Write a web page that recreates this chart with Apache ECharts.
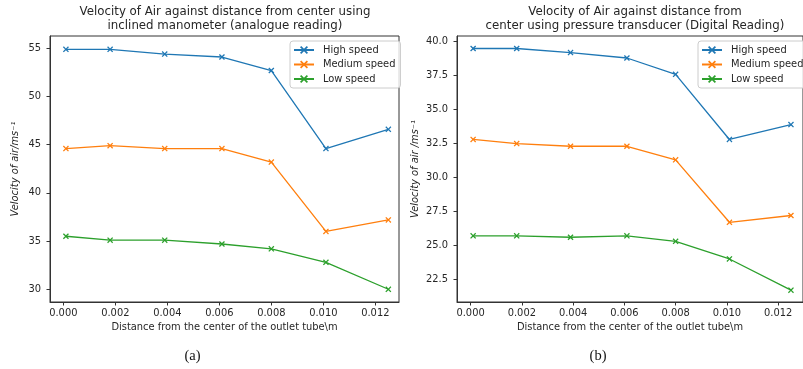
<!DOCTYPE html>
<html><head><meta charset="utf-8">
<script src="https://cdn.jsdelivr.net/npm/echarts@6/dist/echarts.min.js"></script>
<style>html,body{margin:0;padding:0;background:#fff}#c{width:803px;height:369px}</style>
</head><body><div id="c"></div>
<script>
// ---- data ----
const xDist = [0.0001, 0.0018, 0.0039, 0.0061, 0.0080, 0.0101, 0.0125];
const seriesNames = ['High speed', 'Medium speed', 'Low speed'];
const manoHigh = [54.9, 54.9, 54.4, 54.1, 52.7, 44.6, 46.6];
const manoMedium = [44.6, 44.9, 44.6, 44.6, 43.2, 36.0, 37.2];
const manoLow = [35.5, 35.1, 35.1, 34.7, 34.2, 32.8, 30.0];
const digHigh = [39.5, 39.5, 39.2, 38.8, 37.6, 32.8, 33.9];
const digMedium = [32.8, 32.5, 32.3, 32.3, 31.3, 26.7, 27.2];
const digLow = [25.7, 25.7, 25.6, 25.7, 25.3, 24.0, 21.7];
const xTicks = [0, 0.002, 0.004, 0.006, 0.008, 0.010, 0.012];
const yTicksA = [30, 35, 40, 45, 50, 55];
const yTicksB = [22.5, 25, 27.5, 30, 32.5, 35, 37.5, 40];
const titleA = 'Velocity of Air against distance from center using\ninclined manometer (analogue reading)';
const titleB = 'Velocity of Air against distance from\ncenter using pressure transducer (Digital Reading)';
const xName = 'Distance from the center of the outlet tube\\m';
const yNameA = 'Velocity of air/ms\u207B\u00B9';
const yNameB = 'Velocity of air /ms\u207B\u00B9';
const captionA = '(a)';
const captionB = '(b)';

// ---- styling ----
const colors = ['#1f77b4', '#ff7f0e', '#2ca02c'];
const FONT = 'DejaVu Sans';
const TXT = '#262626';
const AX = '#333333';
const xMark = 'path://M1.5,0 L5,3.5 L8.5,0 L10,1.5 L6.5,5 L10,8.5 L8.5,10 L5,6.5 L1.5,10 L0,8.5 L3.5,5 L0,1.5 Z';

function mkSeries(name, arr, idx, ci) {
  return {
    name: name, type: 'line', xAxisIndex: idx, yAxisIndex: idx,
    data: xDist.map((x, i) => [x, arr[i]]),
    symbol: xMark, symbolSize: 6, showSymbol: true,
    lineStyle: { color: colors[ci], width: 1.3 },
    itemStyle: { color: colors[ci] },
    emphasis: { disabled: true }, animation: false
  };
}
function xAxisCfg(idx, min, max) {
  return {
    type: 'value', gridIndex: idx, min: min, max: max, position: 'bottom',
    name: xName, nameLocation: 'middle', nameGap: 20,
    nameTextStyle: { fontFamily: FONT, fontSize: 9.9, color: TXT },
    axisLine: { show: true, onZero: false, lineStyle: { color: AX, width: 1 } },
    splitLine: { show: false },
    axisTick: { show: true, inside: false, length: 3.5, customValues: xTicks, lineStyle: { color: AX, width: 1 } },
    axisLabel: { customValues: xTicks, margin: 6, fontFamily: FONT, fontSize: 9.9, color: TXT,
      formatter: v => v.toFixed(3) }
  };
}
function yAxisCfg(idx, min, max, ticks, name, gap, dec) {
  return {
    type: 'value', gridIndex: idx, min: min, max: max, position: 'left',
    name: name, nameLocation: 'middle', nameGap: gap, nameRotate: 90,
    nameTextStyle: { fontFamily: FONT, fontSize: 9.9, color: TXT, fontStyle: 'italic' },
    axisLine: { show: true, onZero: false, lineStyle: { color: AX, width: 1 } },
    splitLine: { show: false },
    axisTick: { show: true, inside: false, length: 3.5, customValues: ticks, lineStyle: { color: AX, width: 1 } },
    axisLabel: { customValues: ticks, margin: 9, fontFamily: FONT, fontSize: 9.9, color: TXT,
      formatter: v => v.toFixed(dec) }
  };
}
function legendCfg(left, top) {
  return {
    data: seriesNames, orient: 'vertical', left: left, top: top,
    itemWidth: 20, itemHeight: 10, itemGap: 4.5,
    padding: [4, 5, 4, 3], borderColor: '#cccccc', borderWidth: 1, borderRadius: 3,
    backgroundColor: 'rgba(255,255,255,0.8)',
    textStyle: { fontFamily: FONT, fontSize: 9.9, color: TXT, padding: [0, 0, 0, 4] },
    selectedMode: false
  };
}

const chart = echarts.init(document.getElementById('c'), null, { renderer: 'canvas' });
chart.setOption({
  backgroundColor: '#ffffff',
  animation: false,
  grid: [
    { left: 50, top: 36, width: 349, height: 266, show: true, borderColor: AX, borderWidth: 1, containLabel: false },
    { left: 457, top: 36, width: 350, height: 266, show: true, borderColor: AX, borderWidth: 1, containLabel: false }
  ],
  xAxis: [xAxisCfg(0, -0.000512, 0.01291), xAxisCfg(1, -0.000529, 0.01297)],
  yAxis: [
    yAxisCfg(0, 28.68, 56.28, yTicksA, yNameA, 30, 0),
    yAxisCfg(1, 20.83, 40.42, yTicksB, yNameB, 37, 1)
  ],
  legend: [legendCfg(290, 41), legendCfg(698, 41)],
  series: [
    mkSeries(seriesNames[0], manoHigh, 0, 0),
    mkSeries(seriesNames[1], manoMedium, 0, 1),
    mkSeries(seriesNames[2], manoLow, 0, 2),
    mkSeries(seriesNames[0], digHigh, 1, 0),
    mkSeries(seriesNames[1], digMedium, 1, 1),
    mkSeries(seriesNames[2], digLow, 1, 2)
  ],
  graphic: [
    { type: 'text', x: 225, y: 5, style: { text: titleA, fontFamily: FONT, fontSize: 11.8, lineHeight: 14, fill: TXT, textAlign: 'center', textVerticalAlign: 'top' } },
    { type: 'text', x: 635, y: 5, style: { text: titleB, fontFamily: FONT, fontSize: 11.8, lineHeight: 14, fill: TXT, textAlign: 'center', textVerticalAlign: 'top' } },
    { type: 'text', x: 192.5, y: 356, style: { text: captionA, fontFamily: 'Liberation Serif', fontSize: 14.5, fill: '#111', textAlign: 'center', textVerticalAlign: 'middle' } },
    { type: 'text', x: 598, y: 356, style: { text: captionB, fontFamily: 'Liberation Serif', fontSize: 14.5, fill: '#111', textAlign: 'center', textVerticalAlign: 'middle' } }
  ]
});
</script></body></html>
